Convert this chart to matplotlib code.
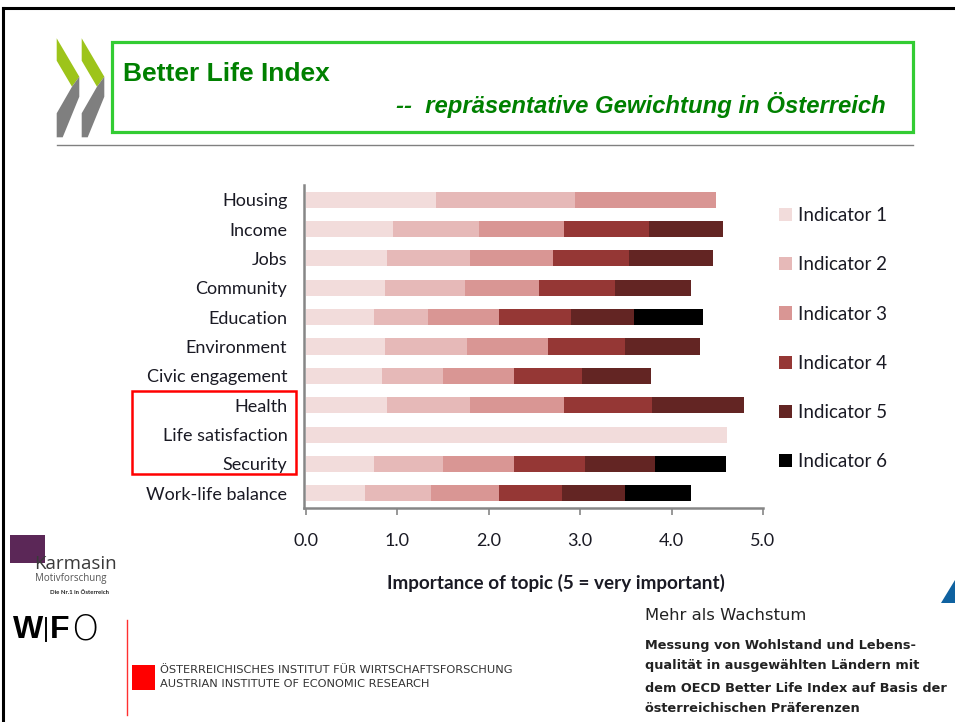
import matplotlib
matplotlib.use("Agg")
import matplotlib.pyplot as plt
from matplotlib.patches import Rectangle, Polygon
from matplotlib.ticker import FormatStrFormatter

W, H = 955, 722

categories = ["Housing", "Income", "Jobs", "Community", "Education", "Environment",
              "Civic engagement", "Health", "Life satisfaction", "Security",
              "Work-life balance"]

# segment widths per indicator (0 = topic has no such indicator)
ind1 = [1.42, 0.95, 0.89, 0.87, 0.75, 0.87, 0.83, 0.89, 4.61, 0.75, 0.65]
ind2 = [1.52, 0.94, 0.91, 0.87, 0.59, 0.89, 0.67, 0.91, 0.00, 0.75, 0.72]
ind3 = [1.55, 0.93, 0.90, 0.81, 0.77, 0.89, 0.78, 1.02, 0.00, 0.78, 0.74]
ind4 = [0.00, 0.93, 0.83, 0.83, 0.79, 0.84, 0.74, 0.97, 0.00, 0.77, 0.69]
ind5 = [0.00, 0.81, 0.92, 0.83, 0.69, 0.82, 0.76, 1.00, 0.00, 0.77, 0.69]
ind6 = [0.00, 0.00, 0.00, 0.00, 0.75, 0.00, 0.00, 0.00, 0.00, 0.78, 0.72]

indicators = [ind1, ind2, ind3, ind4, ind5, ind6]
ind_labels = ["Indicator 1", "Indicator 2", "Indicator 3",
              "Indicator 4", "Indicator 5", "Indicator 6"]
colors = ["#F2DCDB", "#E6B9B8", "#D99694", "#953735", "#632523", "#000000"]

xticks = [0, 1, 2, 3, 4, 5]


def fx(px):
    return px / W


def fy(py):
    return 1 - py / H


plt.rcParams["font.family"] = ["Lato", "DejaVu Sans"]
fig = plt.figure(figsize=(W / 100, H / 100), dpi=100)

# slide frame
fig.add_artist(plt.Line2D([fx(3), fx(955)], [fy(8), fy(8)], color="black", lw=2.2))
fig.add_artist(plt.Line2D([fx(3), fx(3)], [fy(8), fy(722)], color="black", lw=2.2))

# OECD-like chevrons
for dx in (0, 25):
    green = [(56.7, 38.3), (79.3, 76.7), (72, 86.7), (56.7, 60.7)]
    grey = [(72, 86.7), (79.3, 76.7), (79.3, 96.7), (62.7, 137.3), (56.7, 137.3), (56.7, 113.3)]
    fig.add_artist(Polygon([(fx(x + dx), fy(y)) for x, y in green], closed=True,
                           transform=fig.transFigure, color="#9DC41A", lw=0))
    fig.add_artist(Polygon([(fx(x + dx), fy(y)) for x, y in grey], closed=True,
                           transform=fig.transFigure, color="#7F7F7F", lw=0))

# header box
fig.add_artist(Rectangle((fx(112), fy(132)), fx(913) - fx(112), fy(42) - fy(132),
                         transform=fig.transFigure, fill=False, ec="#33CC33", lw=2.3))
fig.text(fx(123), fy(74), "Better Life Index", family="Liberation Sans", weight="bold",
         size=19, color="#008000", va="center", ha="left")
fig.text(fx(886), fy(105), "--  repräsentative Gewichtung in Österreich",
         family="Liberation Sans", weight="bold", style="italic",
         size=17.2, color="#008000", va="center", ha="right")
fig.add_artist(plt.Line2D([fx(57), fx(913)], [fy(145), fy(145)], color="#808080", lw=1))

# chart
ax = fig.add_axes([fx(304), fy(508), fx(763) - fx(304), fy(185) - fy(508)])
ypos = list(range(len(categories)))
left = [0.0] * len(categories)
handles = []
for vals, col, lab in zip(indicators, colors, ind_labels):
    bars = ax.barh(ypos, vals, left=left, height=0.55, color=col, label=lab)
    handles.append(bars)
    left = [a + b for a, b in zip(left, vals)]

ax.set_ylim(len(categories) - 0.5, -0.5)
ax.set_xlim(-0.02, 5)
ax.set_yticks(ypos)
ax.set_yticklabels(categories, fontsize=13, color="#1a1a24")
ax.set_xticks(xticks)
ax.xaxis.set_major_formatter(FormatStrFormatter("%.1f"))
ax.tick_params(axis="y", length=0, pad=12)
ax.tick_params(axis="x", length=5, width=1.2, color="#868686", pad=13,
               labelsize=13, labelcolor="#1a1a24")
for s in ("top", "right"):
    ax.spines[s].set_visible(False)
for s in ("left", "bottom"):
    ax.spines[s].set_color("#868686")
    ax.spines[s].set_linewidth(1.8)
ax.set_xlabel("Importance of topic (5 = very important)", fontsize=13.6, weight="bold",
              color="#1a1a24")
ax.xaxis.set_label_coords((556 - 304) / (763 - 304), -(583 - 508) / (508 - 185),
                          transform=ax.transAxes)
ax.xaxis.label.set_va("center")

ax.legend(handles=handles, loc="upper left", bbox_to_anchor=(fx(779), fy(207)),
          bbox_transform=fig.transFigure, frameon=False, fontsize=13.5,
          handlelength=0.7, handleheight=0.7, handletextpad=0.3,
          labelspacing=1.72, borderpad=0, borderaxespad=0, labelcolor="#1a1a24")

# red highlight box
fig.add_artist(Rectangle((fx(131.5), fy(473.5)), fx(295.5) - fx(131.5), fy(391) - fy(473.5),
                         transform=fig.transFigure, fill=False, ec="#FF0000", lw=1.8))

# Karmasin logo
fig.add_artist(Rectangle((fx(10), fy(563)), fx(45) - fx(10), fy(535) - fy(563),
                         transform=fig.transFigure, color="#5B2757", lw=0))
fig.text(fx(34), fy(564), "Karmasin", size=13.5, color="#3a3a3a", va="center", ha="left",
         family="Open Sans")
fig.text(fx(35), fy(578), "Motivforschung", size=7, color="#555555", va="center",
         ha="left", family="Open Sans")
fig.text(fx(50), fy(592), "Die Nr.1 in Österreich", size=4.3, color="#222222",
         va="center", ha="left", weight="bold")

# WIFO logo
fig.text(fx(13), fy(630), "W", size=23, weight="bold", color="black", va="center",
         ha="left", family="Liberation Sans")
fig.add_artist(plt.Line2D([fx(46), fx(46)], [fy(618), fy(641)], color="black", lw=1.4))
fig.text(fx(50), fy(630), "F", size=23, weight="bold", color="black", va="center",
         ha="left", family="Liberation Sans")
fig.text(fx(71), fy(630), "O", size=25, weight="light", color="black", va="center",
         ha="left", family="DejaVu Sans")
fig.add_artist(plt.Line2D([fx(127), fx(127)], [fy(620), fy(715)], color="#FF3030", lw=1))
fig.add_artist(Rectangle((fx(131.5), fy(690)), fx(155) - fx(131.5), fy(665) - fy(690),
                         transform=fig.transFigure, color="#FF0000", lw=0))
fig.text(fx(160), fy(670), "ÖSTERREICHISCHES INSTITUT FÜR WIRTSCHAFTSFORSCHUNG",
         size=8.2, color="#333333", va="center", ha="left", family="DejaVu Sans")
fig.text(fx(160), fy(684), "AUSTRIAN INSTITUTE OF ECONOMIC RESEARCH",
         size=8.2, color="#333333", va="center", ha="left", family="DejaVu Sans")

# book text, bottom right
fig.text(fx(645), fy(615), "Mehr als Wachstum", size=11.8, color="#222222",
         va="center", ha="left", family="DejaVu Sans")
for txt, yy in [("Messung von Wohlstand und Lebens-", 646),
                ("qualität in ausgewählten Ländern mit", 666),
                ("dem OECD Better Life Index auf Basis der", 688),
                ("österreichischen Präferenzen", 709)]:
    fig.text(fx(645), fy(yy), txt, size=9.3, weight="bold", color="#222222",
             va="center", ha="left", family="DejaVu Sans")

# blue corner triangle
fig.add_artist(Polygon([(fx(941), fy(603)), (fx(955), fy(580)), (fx(955), fy(603))],
                       closed=True, transform=fig.transFigure, color="#0F62A0", lw=0))

fig.savefig("out.png", dpi=100)
